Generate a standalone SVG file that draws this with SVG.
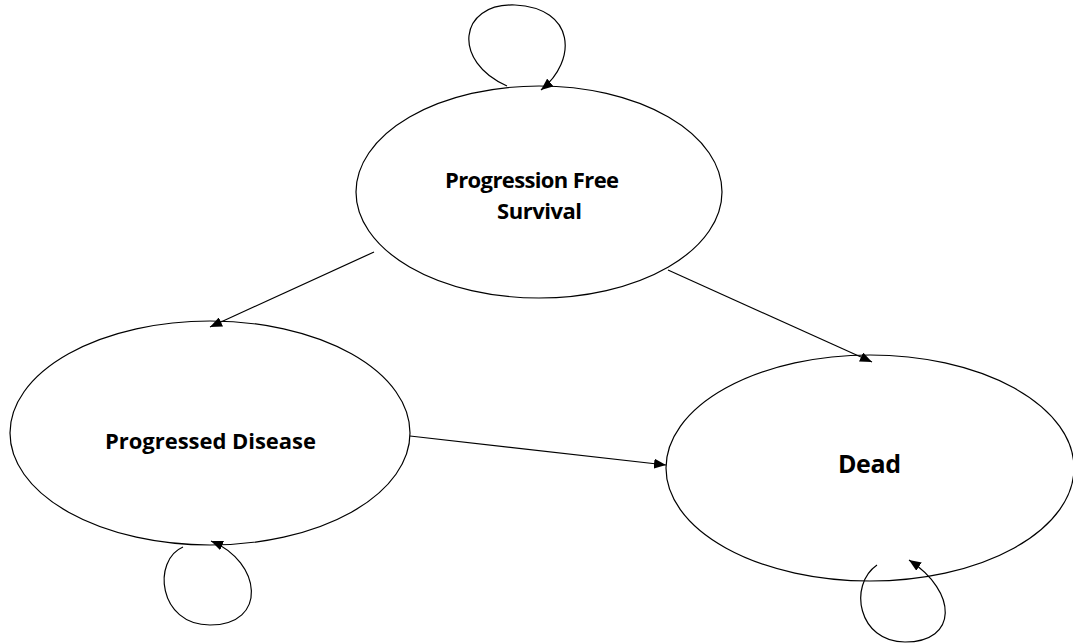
<svg xmlns="http://www.w3.org/2000/svg" width="1073" height="644" viewBox="0 0 1073 644">
<style>
.node{fill:#fff;stroke:#000;stroke-width:1.2}
.lbl{font-family:"Open Sans","Liberation Sans",sans-serif;font-weight:bold;fill:#000;font-size:22px}
.edge{fill:none;stroke:#000;stroke-width:1.2;marker-end:url(#ah)}
</style>
<defs>
<marker id="ah" markerUnits="userSpaceOnUse" markerWidth="14" markerHeight="10" refX="12" refY="5" orient="auto">
<path d="M0,0 L12,5 L0,10 Z" fill="#000"/>
</marker>
</defs>
<rect width="1073" height="644" fill="#fff"/>
<g id="pfs">
<ellipse class="node" cx="539" cy="192" rx="183" ry="106"/>
<text class="lbl" x="445" y="188" textLength="174" lengthAdjust="spacing">Progression  Free</text>
<text class="lbl" x="497" y="219" textLength="85" lengthAdjust="spacing">Survival</text>
</g>
<g id="pd">
<ellipse class="node" cx="210" cy="433" rx="200" ry="112"/>
<text class="lbl" x="105" y="449" textLength="211" lengthAdjust="spacing">Progressed  Disease</text>
</g>
<g id="dead">
<ellipse class="node" cx="870" cy="468" rx="204" ry="113"/>
<text class="lbl" x="838" y="473" font-size="25" textLength="63" lengthAdjust="spacing" style="font-size:25px">Dead</text>
</g>
<g id="connectors">
<path class="edge" d="M374,252 L210,327"/>
<path class="edge" d="M668,270 L872,362"/>
<path class="edge" d="M410,436 L666,465"/>
<path class="edge" d="M507,86 C452,62 458,3 515,5 C575,8 578,60 541,90"/>
<path class="edge" d="M183,547 C152,560 158,625 210,625 C268,625 262,562 211,541"/>
<path class="edge" d="M877,565 C848,585 858,642 905,642 C958,642 958,592 909,560"/>
</g>
</svg>
